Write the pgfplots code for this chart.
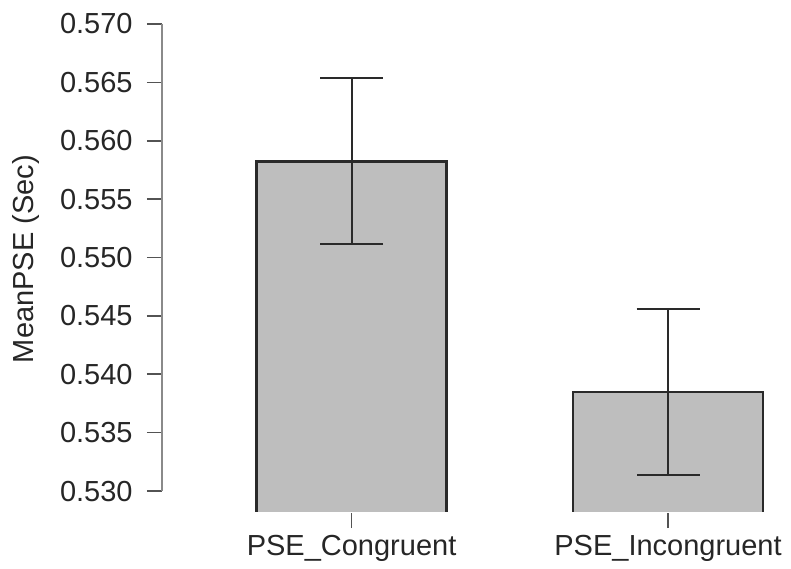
\documentclass[border=0pt]{standalone}
\usepackage{fontspec}
\setmainfont{Liberation Sans}
\usepackage{pgfplots}
\pgfplotsset{compat=1.18}
\definecolor{barfill}{HTML}{BEBEBE}
\definecolor{edge}{HTML}{2A2A2A}
\definecolor{axgray}{HTML}{8A8A8A}
\begin{document}
\begin{tikzpicture}
\begin{axis}[
  at={(0pt,0pt)}, anchor=south west,
  scale only axis,
  width=314.5pt, height=253.85pt,
  xmin=-0.599, xmax=1.3886,
  ymin=0.52812, ymax=0.5716,
  clip mode=individual,
  axis line style={draw=none},
  tick pos=left,
  tick align=outside,
  major tick length=7.5pt,
  tick style={axgray!60!black, line width=0.8pt},
  xtick={0,1},
  xticklabels={PSE\_Congruent, PSE\_Incongruent},
  ytick={0.530,0.535,0.540,0.545,0.550,0.555,0.560,0.565,0.570},
  /pgf/number format/assume math mode=true,
  yticklabel={\pgfmathprintnumber[fixed, fixed zerofill, precision=3]{\tick}},
  scaled y ticks=false,
  tick label style={font=\fontsize{14.5pt}{17pt}\selectfont, text=black!85},
  yticklabel style={anchor=east, inner sep=0pt, xshift=-7pt},
  xticklabel style={anchor=base, inner sep=0pt, yshift=-13.5pt},
  ylabel={MeanPSE (Sec)},
  every axis y label/.style={at={(axis description cs:-0.2035,0.5)}, anchor=base, rotate=90, inner sep=0pt, font=\fontsize{14.5pt}{17pt}\selectfont, text=black!85},
]
\begin{scope}
\clip (rel axis cs:0,0) ++(0pt,0.7pt) rectangle (rel axis cs:1,1);
\addplot[ybar, bar width=95pt, fill=barfill, draw=edge, line width=1.1pt,
  error bars/.cd, y dir=both, y explicit,
  error bar style={line width=1pt, edge},
  error mark options={rotate=90, mark size=15.75pt, line width=1pt, edge}]
  coordinates {
    (0,0.55822) += (0,0.00715) -= (0,0.00706)
    (1,0.53848) += (0,0.00711) -= (0,0.00711)
  };
\end{scope}
\draw[axgray, line width=0.8pt] (axis cs:-0.599,0.530) -- (axis cs:-0.599,0.570);
\end{axis}
\pgfresetboundingbox
\useasboundingbox (-81pt,-27.5pt) rectangle (314.5pt,256.5pt);
\end{tikzpicture}
\end{document}
